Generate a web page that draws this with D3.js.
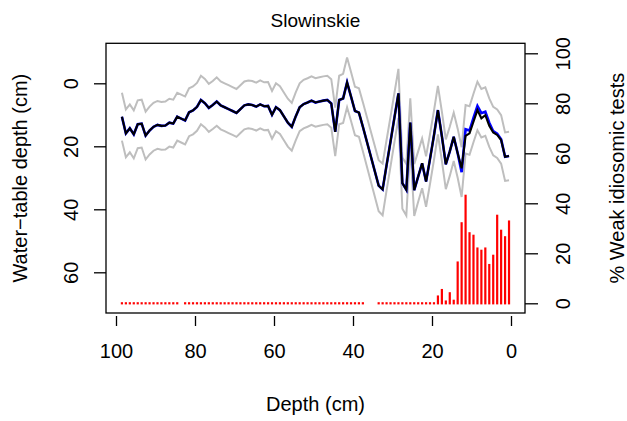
<!DOCTYPE html>
<html>
<head>
<meta charset="utf-8">
<script src="https://cdn.jsdelivr.net/npm/d3@7.9.0/dist/d3.min.js"></script>
<style>
  body { margin: 0; background: #fff; }
  svg text { font-family: "Liberation Sans", Arial, sans-serif; fill: #000; }
</style>
</head>
<body>
<svg id="chart" width="627" height="421"></svg>
<script>
// sample depths (cm), one per core slice
const depths = [
  98.5, 97.5, 96.5, 95.5, 94.5, 93.5, 92.5, 91.5, 90.5, 89.5,
  88.5, 87.5, 86.5, 85.5, 84.5, 83.5, 82.5, 81.5, 80.5, 79.5,
  78.5, 77.5, 76.5, 75.5, 74.5, 73.5, 72.5, 71.5, 70.5, 69.5,
  68.5, 67.5, 66.5, 65.5, 64.5, 63.5, 62.5, 61.5, 60.5, 59.5,
  58.5, 57.5, 56.5, 55.5, 54.5, 53.5, 52.5, 51.5, 50.5, 49.5,
  48.5, 47.5, 46.5, 45.5, 44.5, 43.5, 42.5, 41.5, 40.5, 39.5,
  38.5, 37.5,
  33.5, 32.5, 31.5, 30.5, 29.5, 28.5, 27.5, 26.5, 25.5, 24.5,
  23.5, 22.5, 21.5, 20.5, 19.5, 18.5, 17.5, 16.5, 15.5, 14.5,
  13.5, 12.5, 11.5, 10.5, 9.5, 8.5, 7.5, 6.5, 5.5, 4.5,
  3.5, 2.5, 1.5, 0.5
];

// reconstructed water-table depth, black series
const wtBlack = [
  10.6, 15.9, 14.3, 16.2, 13.0, 12.8, 16.6, 15.0, 13.8, 13.2,
  13.5, 13.4, 12.5, 12.8, 10.6, 11.2, 11.8, 9.2, 8.6, 7.5,
  5.3, 6.3, 7.8, 6.9, 5.8, 7.0, 7.6, 8.2, 8.8, 9.4,
  8.2, 7.0, 6.7, 6.9, 7.4, 6.7, 7.3, 7.2, 10.0, 7.6,
  8.5, 10.5, 12.5, 13.8, 10.5, 7.6, 6.6, 6.1, 5.5, 6.1,
  5.8, 5.5, 5.3, 6.4, 15.4, 5.3, 4.8, -0.3, 4.2, 8.8,
  9.3, 13.8,
  32.5, 33.7, 26.0, 18.5, 10.8, 3.2, 31.7, 33.8, 12.5, 33.9,
  29.6, 25.4, 31.2, 24.0, 16.5, 8.5, 16.8, 25.7, 21.6, 17.0,
  22.2, 27.0, 16.7, 15.9, 12.2, 8.5, 11.1, 10.1, 13.5, 15.6,
  16.4, 18.0, 23.3, 23.1
];

// reconstructed water-table depth, blue series
const wtBlue = [
  10.6, 15.9, 14.3, 16.2, 13.0, 12.8, 16.6, 15.0, 13.8, 13.2,
  13.5, 13.4, 12.5, 12.8, 10.6, 11.2, 11.8, 9.2, 8.6, 7.5,
  5.3, 6.3, 7.8, 6.9, 5.8, 7.0, 7.6, 8.2, 8.8, 9.4,
  8.2, 7.0, 6.7, 6.9, 7.4, 6.7, 7.3, 7.2, 10.0, 7.6,
  8.5, 10.5, 12.5, 13.8, 10.5, 7.6, 6.6, 6.1, 5.5, 6.1,
  5.8, 5.5, 5.3, 6.4, 15.4, 5.3, 4.8, -0.3, 4.2, 8.8,
  9.3, 13.8,
  32.5, 33.7, 26.0, 18.5, 10.8, 3.2, 31.7, 33.8, 12.5, 33.9,
  29.6, 25.4, 31.2, 24.0, 16.5, 8.5, 16.8, 25.7, 21.6, 17.0,
  22.2, 28.2, 14.6, 15.0, 11.0, 7.2, 9.5, 9.0, 12.5, 15.2,
  16.0, 17.8, 23.3, 23.1
];

// sample-specific error of the blue series (cm)
const wtErr = [
  7.6, 7.6, 7.6, 7.6, 7.6, 7.6, 7.6, 7.6, 7.6, 7.6,
  7.6, 7.6, 7.6, 7.6, 7.6, 7.6, 7.6, 7.6, 7.6, 7.6,
  7.7, 7.7, 7.6, 7.6, 7.7, 7.6, 7.6, 7.6, 7.6, 7.6,
  7.6, 7.6, 7.6, 7.6, 7.6, 7.6, 7.6, 7.6, 7.6, 7.6,
  7.6, 7.6, 7.6, 7.6, 7.6, 7.6, 7.7, 7.7, 7.7, 7.7,
  7.7, 7.7, 7.7, 7.7, 7.7, 7.7, 7.8, 7.9, 7.8, 7.7,
  7.7, 7.8,
  8.1, 8.2, 8.0, 7.9, 7.8, 7.8, 8.1, 8.2, 7.7, 8.2,
  8.0, 7.9, 8.0, 7.9, 7.8, 7.7, 7.8, 7.9, 7.8, 7.7,
  7.8, 7.9, 7.7, 7.7, 7.7, 7.7, 7.7, 7.7, 7.7, 7.7,
  7.7, 7.7, 7.7, 7.7
];

// % weak idiosomic tests (null = not counted)
const weakPct = [
  0, 0, 0, 0, 0, 0, 0, 0, 0, 0,
  0, 0, 0, 0, 0, null, 0, 0, 0, 0,
  0, 0, 0, 0, 0, 0, 0, 0, 0, 0,
  0, 0, 0, 0, 0, 0, 0, 0, 0, 0,
  0, 0, 0, 0, 0, 0, 0, 0, 0, 0,
  0, 0, 0, 0, 0, 0, 0, 0, 0, 0,
  0, 0,
  0, 0, 0, 0, 0, 0, 0, 0, 0, 0,
  0, 0, 0, 0, 0, 2.7, 5.3, 0.7, 4.0, 1.0,
  16.3, 32.0, 43.0, 28.0, 27.0, 21.9, 21.0, 21.9, 15.3, 19.0,
  35.0, 29.0, 26.4, 32.7
];

const depthTicks = [100, 80, 60, 40, 20, 0];
const wtTicks = [0, 20, 40, 60];
const pctTicks = [0, 20, 40, 60, 80, 100];

const svg = d3.select('#chart');
const box = { left: 106, right: 525, top: 43.3, bottom: 313 };

let x = d3.scaleLinear().domain([100, 0]).range([116, 511]);
let yWt = d3.scaleLinear().domain([0, 60]).range([83.3, 272.3]);
let yPct = d3.scaleLinear().domain([0, 100]).range([303.3, 53.3]);

let rows = depths.map((d, i) => ({
  depth: d, black: wtBlack[i], blue: wtBlue[i], err: wtErr[i], pct: weakPct[i],
}));

// grey error envelope round the blue series
let upper = d3.line().x((r) => x(r.depth)).y((r) => yWt(r.blue - r.err));
let lower = d3.line().x((r) => x(r.depth)).y((r) => yWt(r.blue + r.err));
[upper, lower].forEach((gen) => {
  svg.append('path').attr('d', gen(rows))
    .attr('fill', 'none').attr('stroke', '#bebebe').attr('stroke-width', 2);
});

svg.append('path')
  .attr('d', d3.line().x((r) => x(r.depth)).y((r) => yWt(r.blue))(rows))
  .attr('fill', 'none').attr('stroke', '#0000ff').attr('stroke-width', 2.6);

svg.append('path')
  .attr('d', d3.line().x((r) => x(r.depth)).y((r) => yWt(r.black))(rows))
  .attr('fill', 'none').attr('stroke', '#000').attr('stroke-width', 2.1);

// red bars for the tests
svg.append('g')
  .selectAll('rect')
  .data(rows.filter((r) => r.pct !== null))
  .join('rect')
  .attr('x', (r) => x(r.depth) - 1.1)
  .attr('width', 2.2)
  .attr('y', (r) => yPct(r.pct) - 1.1)
  .attr('height', (r) => yPct(0) - yPct(r.pct) + 2.2)
  .attr('fill', '#ff0000');

// plot box
svg.append('rect')
  .attr('x', box.left).attr('y', box.top)
  .attr('width', box.right - box.left).attr('height', box.bottom - box.top)
  .attr('fill', 'none').attr('stroke', '#000').attr('stroke-width', 1.3);

function styleAxis(g) {
  g.select('.domain').remove();
  g.selectAll('line').attr('stroke', '#000').attr('stroke-width', 1.3);
  g.selectAll('text').attr('fill', '#000').style('font-size', '20px');
}

// bottom axis
let gx = svg.append('g')
  .attr('transform', `translate(0,${box.bottom + 3})`)
  .call(d3.axisBottom(x).tickValues(depthTicks).tickSize(10).tickFormat(d3.format('d')))
  .call(styleAxis);
gx.selectAll('text').attr('y', null).attr('dy', null)
  .attr('transform', 'translate(0,42)');

// left axis, rotated labels
let gl = svg.append('g')
  .attr('transform', `translate(${box.left},0)`)
  .call(d3.axisLeft(yWt).tickValues(wtTicks).tickSize(12))
  .call(styleAxis);
gl.selectAll('text').attr('x', null).attr('dy', null)
  .attr('text-anchor', 'middle')
  .attr('transform', 'translate(-28,0) rotate(-90)');

// right axis, rotated labels
let gr = svg.append('g')
  .attr('transform', `translate(${box.right},0)`)
  .call(d3.axisRight(yPct).tickValues(pctTicks).tickSize(13))
  .call(styleAxis);
gr.selectAll('text').attr('x', null).attr('dy', null)
  .attr('text-anchor', 'middle')
  .attr('transform', 'translate(45,0) rotate(-90)');

// titles
let midX = (box.left + box.right) / 2;
let midY = (box.top + box.bottom) / 2;
svg.append('text').attr('x', midX).attr('y', 27)
  .attr('text-anchor', 'middle').style('font-size', '19px').text('Slowinskie');
svg.append('text').attr('x', midX).attr('y', 411)
  .attr('text-anchor', 'middle').style('font-size', '20px').text('Depth (cm)');
svg.append('text')
  .attr('transform', `translate(27,${midY}) rotate(-90)`)
  .attr('text-anchor', 'middle').style('font-size', '20px').text('Water\u2212table depth (cm)');
svg.append('text')
  .attr('transform', `translate(624,${midY}) rotate(-90)`)
  .attr('text-anchor', 'middle').style('font-size', '20px').text('% Weak idiosomic tests');
</script>
</body>
</html>
